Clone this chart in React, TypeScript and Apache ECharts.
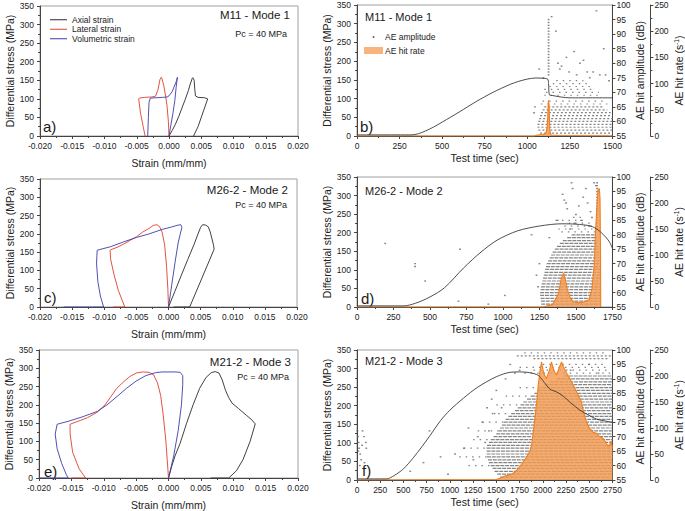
import React, { useEffect, useRef } from 'react';
import * as echarts from 'echarts';

const FONT = '"Liberation Sans", Arial, sans-serif';

// ---------- Stress–strain panels (strain, differential stress MPa) ----------
const aAxial = [[0,0],[0.0005,15],[0.001,32],[0.0015,52],[0.002,75],[0.0025,98],[0.003,122],[0.0033,140],[0.0036,155],[0.0037,157],[0.0039,150],[0.004,125],[0.0041,108],[0.0045,104],[0.0055,103],[0.006,100],[0.0053,65],[0.0045,25],[0.0038,0]];
const aLateral = [[0,0],[-0.0001,40],[-0.0003,80],[-0.0005,105],[-0.0008,135],[-0.0011,155],[-0.0012,158],[-0.0014,152],[-0.0017,125],[-0.0021,107],[-0.0027,105],[-0.0038,104],[-0.0046,102],[-0.0047,100],[-0.0044,60],[-0.004,25],[-0.0037,0]];
const aVolumetric = [[0,0],[0.0003,30],[0.0006,60],[0.0009,95],[0.0011,130],[0.0013,158],[0.0012,150],[0.0005,120],[0,108],[-0.0003,105],[-0.001,104],[-0.002,103],[-0.0029,102],[-0.0031,90],[-0.0032,50],[-0.0033,0]];

const cAxial = [[0,0],[0.001,43],[0.002,87],[0.003,130],[0.004,172],[0.0046,200],[0.005,218],[0.0053,225],[0.0058,224],[0.0062,219],[0.0065,205],[0.007,170],[0.0071,158],[0.0052,79],[0.0033,0],[0.0008,0]];
const cLateral = [[0,0],[-0.0001,50],[-0.0003,110],[-0.0006,170],[-0.001,205],[-0.0014,220],[-0.0018,225],[-0.0024,223],[-0.003,215],[-0.004,205],[-0.005,192],[-0.006,182],[-0.007,172],[-0.008,163],[-0.0088,158],[-0.0091,155],[-0.009,130],[-0.0085,90],[-0.0078,45],[-0.0068,0],[-0.0086,0]];
const cVolumetric = [[0,0],[0.0005,60],[0.001,120],[0.0015,175],[0.0019,205],[0.0021,218],[0.0019,225],[0.0015,224],[0.0005,219],[-0.001,212],[-0.003,200],[-0.005,190],[-0.007,178],[-0.009,165],[-0.0105,158],[-0.0111,155],[-0.0112,120],[-0.011,70],[-0.0106,30],[-0.0101,0],[-0.0163,0]];

const eAxial = [[0,0],[0.0005,32],[0.001,60],[0.0018,95],[0.0028,150],[0.0038,200],[0.0048,245],[0.0058,275],[0.0066,288],[0.0072,291],[0.0078,287],[0.0083,268],[0.0088,240],[0.0093,220],[0.0098,205],[0.0108,190],[0.012,172],[0.0128,160],[0.0134,148],[0.0126,100],[0.0115,50],[0.0105,20],[0.0093,0],[0.0065,0]];
const eLateral = [[0,0],[-0.0002,50],[-0.0004,100],[-0.0008,170],[-0.0012,225],[-0.0017,260],[-0.0023,282],[-0.003,289],[-0.004,290],[-0.005,287],[-0.006,277],[-0.007,262],[-0.008,245],[-0.009,220],[-0.0098,200],[-0.011,180],[-0.0125,165],[-0.014,155],[-0.0152,147],[-0.0152,120],[-0.0148,70],[-0.0138,25],[-0.0128,0],[-0.015,0]];
const eVolumetric = [[0,0],[0.0008,60],[0.0015,130],[0.002,200],[0.0022,255],[0.0022,280],[0.0018,289],[0.001,290],[-0.001,290],[-0.002,288],[-0.0035,280],[-0.005,265],[-0.0065,245],[-0.008,222],[-0.0095,200],[-0.011,182],[-0.0135,166],[-0.0155,155],[-0.0172,147],[-0.0175,120],[-0.0172,80],[-0.0165,40],[-0.0158,10],[-0.0155,0],[-0.02,0]];

// ---------- Test-time panels ----------
// stress vs time [sec, MPa]
const bStress = [[0,3],[320,3],[360,6],[400,13],[450,24],[500,37],[600,64],[700,92],[800,117],[900,138],[950,146],[1000,152],[1050,155],[1100,154],[1120,152],[1125,140],[1130,110],[1150,108],[1200,104],[1250,102],[1500,102]];
const dStress = [[0,3],[320,3],[400,10],[500,27],[600,52],[730,105],[850,148],[960,180],[1100,205],[1250,218],[1400,224],[1500,223],[1600,218],[1650,208],[1700,190],[1730,175],[1750,158]];
const fStress = [[0,3],[320,3],[400,12],[500,30],[600,58],[700,90],[787,120],[900,160],[1000,188],[1145,220],[1300,250],[1500,278],[1650,290],[1750,291],[1860,289],[1950,282],[2000,268],[2076,245],[2150,237],[2219,226],[2300,208],[2400,188],[2470,178],[2577,164],[2650,160],[2750,155]];

// AE hit rate [sec, hits/s]
const bHitRate = [[0,0],[1040,0],[1060,2],[1090,3],[1110,5],[1118,20],[1124,68],[1128,60],[1132,10],[1140,2],[1200,1],[1500,0]];
const dHitRate = [[0,0],[1280,0],[1300,2],[1340,5],[1380,25],[1400,55],[1415,65],[1425,55],[1440,35],[1460,18],[1480,10],[1520,8],[1560,10],[1590,14],[1610,35],[1625,80],[1635,150],[1645,200],[1652,225],[1660,228],[1665,210],[1668,120],[1670,0]];
const fHitRate = [[0,0],[1500,1],[1550,4],[1600,8],[1650,10],[1700,15],[1750,25],[1790,35],[1830,45],[1860,55],[1880,67],[1900,95],[1915,118],[1935,150],[1951,182],[1970,210],[1987,227],[2010,205],[2040,195],[2070,210],[2094,227],[2120,210],[2148,202],[2175,215],[2202,227],[2230,215],[2260,205],[2291,195],[2320,185],[2363,170],[2390,160],[2417,150],[2440,130],[2470,112],[2500,100],[2542,92],[2580,90],[2600,85],[2649,80],[2680,72],[2700,65],[2720,67],[2735,75],[2750,62]];

// AE amplitude rows of hits: [dB, start sec, end sec, density 0=dense 1=medium 2=sparse]
const bRows = [[55,1090,1500,1],[56,1075,1500,1],[57,1065,1500,1],[58,1060,1500,1],[59,1060,1500,1],[60,1065,1500,1],[61,1070,1500,1],[62,1075,1500,1],[63,1080,1490,1],[64,1090,1470,1],[65,1100,1450,1],[66,1080,1480,2],[67,1090,1460,2],[69,1100,1430,2],[70,1110,1420,2],[71,1100,1400,2],[72,1130,1380,2],[73,1150,1350,2],[74,1170,1330,2]];
const dRows = [[55,1265,1670,0],[56,1262,1670,0],[57,1260,1670,0],[58,1258,1670,0],[59,1255,1670,0],[60,1255,1670,0],[61,1258,1670,0],[62,1260,1670,0],[63,1265,1670,0],[64,1270,1670,0],[65,1275,1670,0],[66,1280,1670,0],[67,1285,1670,0],[68,1290,1668,0],[69,1295,1665,0],[70,1300,1665,0],[71,1310,1662,0],[72,1320,1660,0],[73,1330,1660,0],[74,1340,1658,0],[75,1355,1655,0],[76,1370,1655,0],[77,1390,1650,0],[78,1410,1648,0],[79,1440,1645,0],[80,1470,1640,0],[81,1400,1640,2],[82,1380,1630,2],[83,1420,1620,2],[84,1450,1600,2],[85,1360,1580,2],[86,1480,1560,2]];
const fRows = [[55,1580,2750,0],[56,1540,2750,0],[57,1510,2750,0],[58,1480,2750,0],[59,1460,2750,0],[60,1440,2750,0],[61,1420,2750,0],[62,1410,2750,0],[63,1400,2750,0],[64,1395,2750,0],[65,1395,2750,0],[66,1395,2750,0],[67,1400,2750,0],[68,1420,2750,0],[69,1440,2750,0],[70,1470,2750,0],[71,1500,2750,0],[72,1520,2750,0],[73,1540,2750,0],[74,1560,2750,0],[75,1580,2750,0],[76,1600,2750,0],[77,1630,2750,0],[78,1660,2750,0],[79,1700,2750,0],[80,1730,2750,0],[81,1760,2750,0],[82,1790,2750,0],[83,1830,2750,0],[84,1870,2750,0],[85,1910,2750,0],[86,1950,2750,0],[87,1990,2750,0],[88,2020,2750,0],[89,2080,2750,0],[90,2150,2750,0],[91,2230,2750,0],
  [60,1200,1440,2],[63,1100,1400,2],[66,1150,1395,2],[69,1250,1440,2],[72,1300,1520,2],[75,1350,1580,2],[78,1450,1660,2],[81,1500,1760,2],[84,1600,1870,2],[87,1750,1990,2],
  [92,1800,2740,2],[93,1900,2700,2],[94,1750,2720,2],[95,2000,2650,2],[97,1900,2720,1],[98,1720,2740,1],[99,1800,2700,2]];

// Isolated AE amplitude hits [sec, dB]
const bPoints = [[1125,95],[1125,94],[1125,93],[1125,92],[1125,91],[1125,90],[1125,89],[1125,88],[1125,87],[1125,86],[1125,85],[1125,84],[1125,83],[1125,82],[1125,81],[1125,80],[1125,79],[1125,78],[1125,77],[1125,76],[1143,96],[1168,91],[1406,98],[1275,84],[1309,80],[1201,79],[1191,78],[1070,78],[1246,77],[1352,77],[1387,77],[1449,85],[1426,76],[1367,75],[1045,65],[1040,63],[1230,82],[1330,81],[1180,80],[1095,75],[1290,76],[1460,76],[1480,74]];
const dPoints = [[193,77],[398,70],[398,69],[467,64],[695,57],[706,75],[900,56],[1013,59],[1196,80],[1230,66],[1240,62],[1250,70],[1470,98],[1477,96],[1409,94],[1420,92],[1432,91],[1500,87],[1568,96],[1625,98],[1637,97],[1535,85],[1375,85],[1318,79],[1580,91],[1591,83],[1440,89],[1520,90],[1600,88],[1645,98],[1645,97],[1645,96],[1645,95],[1645,94],[1645,93],[1645,92],[1645,91],[1645,90],[1645,89],[1645,88],[1645,87],[1645,86],[1645,85],[1645,84],[1645,83],[1645,82],[1460,82],[1550,93],[1610,86],[1490,84]];
const fPoints = [[5,72],[10,70],[18,68],[22,66],[35,64],[45,62],[60,72],[75,70],[95,68],[100,66],[30,60],[80,61],[15,65],[55,67],[716,61],[1056,64],[1253,62],[573,58],[780,72],[900,63],[1150,66],[1300,70],[1350,75],[1400,80],[1450,83],[1500,86],[1557,80],[1600,90],[1700,92],[1420,72],[1380,68],[1200,73],[980,57],[1480,78],[1650,95],[1750,93],[2500,95],[2300,93],[2600,92]];

const strainTicks = [-0.02, 0.02, 0.005];

// grid rectangles [left, top, width, height]
const grids = [[40,6,258,130],[357,5,256,131],[40,179,257,128],[357,177,256,130],[39,350,259,130],[357,350,256,130]];

const AX = '#444';
const LBL = '#222';

function baseAxis(extra: any) {
  return {
    axisLine: { show: true, onZero: false, lineStyle: { color: AX, width: 1 } },
    axisTick: { show: true, length: 3, lineStyle: { color: AX } },
    minorTick: { show: true, splitNumber: 2, length: 2, lineStyle: { color: AX } },
    axisLabel: { fontSize: 8.5, color: LBL, fontFamily: FONT, margin: 5, formatter: (v: number) => String(v) },
    splitLine: { show: false },
    minorSplitLine: { show: false },
    nameTextStyle: { fontSize: 10.5, fontFamily: FONT, color: LBL },
    ...extra,
  };
}

function strainX(gi: number) {
  return baseAxis({
    type: 'value', gridIndex: gi, min: strainTicks[0], max: strainTicks[1], interval: strainTicks[2],
    name: 'Strain (mm/mm)', nameLocation: 'middle', nameGap: 21,
    axisLabel: { fontSize: 8.5, color: LBL, fontFamily: FONT, margin: 5, formatter: (v: number) => (Math.abs(v) < 1e-9 ? 0 : v).toFixed(3) },
  });
}
function timeX(gi: number, max: number) {
  return baseAxis({
    type: 'value', gridIndex: gi, min: 0, max, interval: 250,
    name: 'Test time (sec)', nameLocation: 'middle', nameGap: 16,
  });
}
function stressY(gi: number) {
  return baseAxis({
    type: 'value', gridIndex: gi, min: 0, max: 350, interval: 50,
    name: 'Differential stress (MPa)', nameLocation: 'middle', nameGap: 25,
    axisLabel: { fontSize: 8.5, color: LBL, fontFamily: FONT, margin: 6, formatter: (v: number) => String(v) },
  });
}
function ampY(gi: number) {
  return baseAxis({
    type: 'value', gridIndex: gi, position: 'right', min: 55, max: 100, interval: 5,
    minorTick: { show: false },
    name: 'AE hit amplitude (dB)', nameLocation: 'middle', nameGap: 20,
    axisLabel: { fontSize: 8.5, color: LBL, fontFamily: FONT, margin: 4, formatter: (v: number) => String(v) },
  });
}
function hrY(gi: number) {
  return baseAxis({
    type: 'value', gridIndex: gi, position: 'right', offset: 38, min: 0, max: 250, interval: 50,
    name: 'AE hit rate (s{sup|-1})', nameLocation: 'middle', nameGap: 21,
    nameTextStyle: { fontSize: 10.5, fontFamily: FONT, color: LBL, rich: { sup: { fontSize: 6.5, fontFamily: FONT, color: LBL, verticalAlign: 'top', padding: [0, 0, 5, 0] } } },
    axisLabel: { fontSize: 8.5, color: LBL, fontFamily: FONT, margin: 4, formatter: (v: number) => String(v) },
  });
}

const COL_AX = '#2b2b2b';
const COL_LAT = '#e0402a';
const COL_VOL = '#3c3caa';

function strainSeries(xi: number, yi: number, ax: number[][], lat: number[][], vol: number[][]) {
  const mk = (name: string, data: number[][], color: string) => ({
    type: 'line', name, xAxisIndex: xi, yAxisIndex: yi, data, showSymbol: false, symbol: 'none',
    color, lineStyle: { color, width: 0.9 }, smooth: false, z: 3,
  });
  return [mk('Axial strain', ax, COL_AX), mk('Lateral strain', lat, COL_LAT), mk('Volumetric strain', vol, COL_VOL)];
}

const DASHES: Record<number, number[]> = { 0: [4, 0.8], 1: [2, 2], 2: [1.5, 5] };

function aeSeries(xi: number, yS: number, yA: number, yH: number, stress: number[][], rows: number[][], pts: number[][], hr: number[][]) {
  return [
    {
      type: 'custom', name: 'AE rows', xAxisIndex: xi, yAxisIndex: yA, data: rows, silent: true, z: 1, clip: true,
      encode: { x: [1, 2], y: 0 },
      renderItem: (params: any, api: any) => {
        const db = api.value(0), t0 = api.value(1), t1 = api.value(2), k = api.value(3);
        const p0 = api.coord([t0, db]);
        const p1 = api.coord([t1, db]);
        return {
          type: 'line',
          shape: { x1: p0[0], y1: p0[1], x2: p1[0], y2: p1[1] },
          style: { stroke: '#858585', lineWidth: 1.2, lineDash: DASHES[k] },
        };
      },
    },
    {
      type: 'scatter', name: 'AE amplitude', xAxisIndex: xi, yAxisIndex: yA, data: pts, symbol: 'rect', symbolSize: [1.8, 1.4],
      itemStyle: { color: '#666' }, z: 2, silent: true,
    },
    {
      type: 'line', name: 'AE hit rate', xAxisIndex: xi, yAxisIndex: yH, data: hr, showSymbol: false, symbol: 'none',
      lineStyle: { color: '#f07f1e', width: 1.1 }, areaStyle: { color: '#f29a52', opacity: 0.82 }, z: 3, silent: true,
    },
    {
      type: 'line', name: 'Stress', xAxisIndex: xi, yAxisIndex: yS, data: stress, showSymbol: false, symbol: 'none', smooth: 0.3,
      lineStyle: { color: '#3a3a3a', width: 0.9 }, z: 4, silent: true,
    },
  ];
}

function txt(x: number, y: number, text: string, size: number, align: string) {
  return { type: 'text', x, y, silent: true, style: { text, fontSize: size, fontFamily: FONT, fill: '#1a1a1a', align, verticalAlign: 'middle' } };
}

export default function App() {
  const ref = useRef<HTMLDivElement>(null);
  useEffect(() => {
    if (!ref.current) return;
    const chart = echarts.init(ref.current, undefined, { renderer: 'svg' });
    const option: any = {
      animation: false,
      backgroundColor: '#ffffff',
      textStyle: { fontFamily: FONT },
      grid: grids.map((g) => ({ left: g[0], top: g[1], width: g[2], height: g[3], show: true, borderColor: '#a0a0a0', borderWidth: 1 })),
      xAxis: [strainX(0), timeX(1, 1500), strainX(2), timeX(3, 1750), strainX(4), timeX(5, 2750)],
      yAxis: [
        stressY(0),
        stressY(1), ampY(1), hrY(1),
        stressY(2),
        stressY(3), ampY(3), hrY(3),
        stressY(4),
        stressY(5), ampY(5), hrY(5),
      ],
      legend: [{
        data: ['Axial strain', 'Lateral strain', 'Volumetric strain'],
        orient: 'vertical', left: 45, top: 10, itemWidth: 17, itemHeight: 1, itemGap: 0, icon: 'rect',
        textStyle: { fontSize: 8.5, fontFamily: FONT, color: LBL, lineHeight: 9.5 },
        selectedMode: false,
      }],
      graphic: [
        txt(290, 15, 'M11 - Mode 1', 11.5, 'right'),
        txt(287, 33.5, 'Pc = 40 MPa', 9, 'right'),
        txt(288, 190, 'M26-2 - Mode 2', 11.5, 'right'),
        txt(287, 204.5, 'Pc = 40 MPa', 9, 'right'),
        txt(291, 361.5, 'M21-2 - Mode 3', 11.5, 'right'),
        txt(289, 376.5, 'Pc = 40 MPa', 9, 'right'),
        txt(365, 17, 'M11 - Mode 1', 11, 'left'),
        txt(365, 190.5, 'M26-2 - Mode 2', 11, 'left'),
        txt(365, 361, 'M21-2 - Mode 3', 11, 'left'),
        txt(43, 126, 'a)', 15, 'left'),
        txt(360, 126, 'b)', 15, 'left'),
        txt(44, 297.5, 'c)', 15, 'left'),
        txt(361, 298, 'd)', 15, 'left'),
        txt(44, 471.5, 'e)', 15, 'left'),
        txt(362, 470, 'f)', 15, 'left'),
        { type: 'circle', silent: true, shape: { cx: 373.5, cy: 37, r: 0.9 }, style: { fill: '#555' } },
        txt(385, 37, 'AE amplitude', 8.5, 'left'),
        { type: 'rect', silent: true, shape: { x: 364, y: 47, width: 19, height: 7 }, style: { fill: '#f8b47c' } },
        txt(385, 50.5, 'AE hit rate', 8.5, 'left'),
      ],
      series: [
        ...strainSeries(0, 0, aAxial, aLateral, aVolumetric),
        ...aeSeries(1, 1, 2, 3, bStress, bRows, bPoints, bHitRate),
        ...strainSeries(2, 4, cAxial, cLateral, cVolumetric),
        ...aeSeries(3, 5, 6, 7, dStress, dRows, dPoints, dHitRate),
        ...strainSeries(4, 8, eAxial, eLateral, eVolumetric),
        ...aeSeries(5, 9, 10, 11, fStress, fRows, fPoints, fHitRate),
      ],
    };
    chart.setOption(option);
    return () => chart.dispose();
  }, []);
  return <div ref={ref} style={{ position: 'absolute', left: 0, top: 0, width: 685, height: 511 }} />;
}
